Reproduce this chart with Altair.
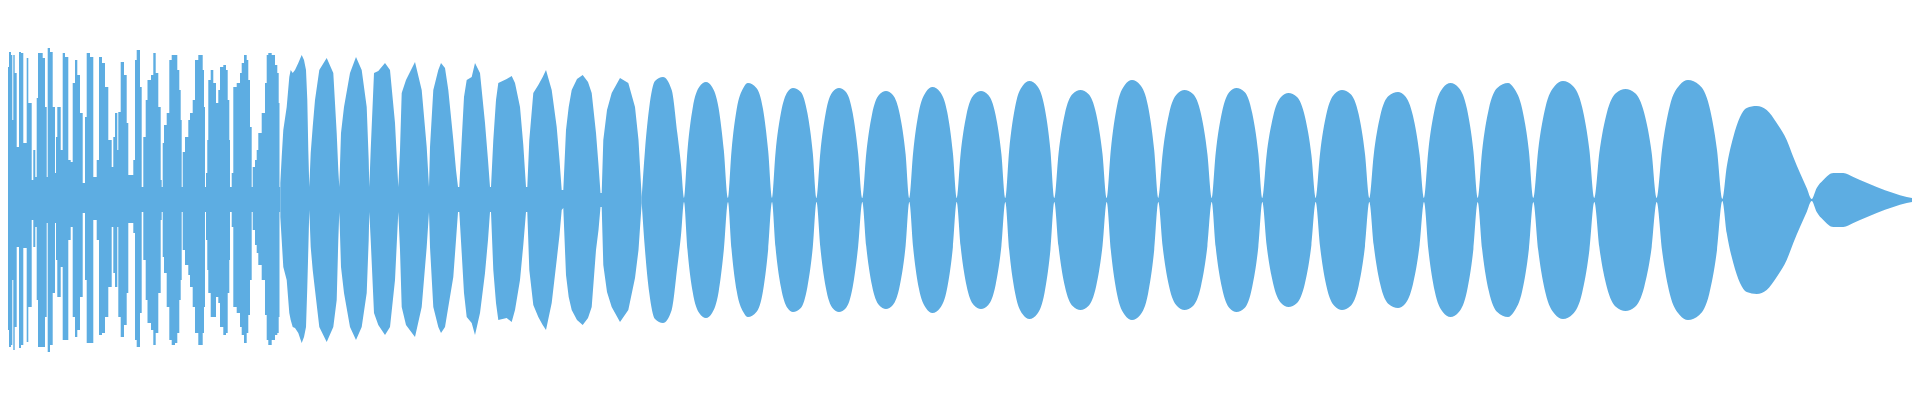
import altair as alt
import pandas as pd

COLOR = "#5DADE2"

# Dense opening bursts: (x position, upper peak, lower peak), peaks in px-like amplitude units
BURSTS = [
    (0, 7, 7), (2, 13, 10), (3.5, 15, 13), (7, 32, 30), (8, 133, 130), (9, 148, 147), (11, 145, 145),
    (12.3, 80, 80), (13.3, 145, 150), (14.7, 127, 127), (16.7, 53, 47), (19, 148, 148), (21, 147, 145),
    (23.3, 57, 48), (26.7, 142, 142), (28.3, 97, 107), (31.7, 20, 20), (33.3, 50, 47), (35.3, 23, 27),
    (36.7, 102, 100), (38, 147, 147), (42.7, 142, 147), (45, 93, 117), (46.7, 23, 23), (47.7, 152, 152),
    (50, 148, 145), (52.7, 93, 93), (55, 27, 23), (56, 63, 60), (57.3, 93, 97), (60.7, 50, 67),
    (62.7, 147, 140), (65, 143, 140), (68.3, 40, 40), (70.7, 38, 27), (72.7, 117, 117), (75, 140, 137),
    (77.3, 125, 130), (80, 87, 97), (82.7, 17, 13), (85, 83, 80), (86.7, 147, 143), (90, 143, 143),
    (93.3, 23, 20), (96.7, 40, 40), (99, 143, 135), (102, 137, 133), (105, 113, 117), (108.3, 60, 87),
    (111.7, 33, 27), (113.3, 63, 73), (115, 87, 87), (117.3, 50, 27), (118.3, 88, 117), (120.7, 138, 137),
    (124, 125, 125), (126.7, 77, 93), (128.3, 25, 23), (133.3, 40, 33), (135, 140, 140), (136.7, 150, 147),
    (140, 113, 113), (141.7, 13, 12),
    (143.3, 63, 60), (145.7, 100, 100), (147.5, 120, 123), (151, 125, 130), (153.3, 147, 145),
    (155.7, 127, 133), (158.3, 93, 93), (160.7, 20, 20), (161.7, 13, 12),
    (162.7, 57, 57), (164, 75, 73), (166.7, 87, 107), (169.3, 140, 140), (171.7, 145, 145),
    (175, 145, 143), (177.3, 130, 133), (179.3, 110, 100), (180.7, 80, 80), (181.7, 13, 12),
    (182.7, 48, 50), (185, 63, 65), (188.3, 80, 75), (190, 87, 87), (192.7, 100, 107), (195, 140, 133),
    (198.3, 145, 145), (202.7, 130, 133), (204, 93, 107), (205, 13, 12),
    (206, 27, 40), (207.3, 60, 70), (208.3, 120, 93), (210.7, 130, 117), (213.3, 117, 117), (216, 97, 97),
    (218.3, 110, 103), (220, 133, 127), (223.3, 135, 135), (226, 130, 133), (227.7, 100, 93),
    (229.3, 60, 60), (230, 13, 12),
    (231.7, 27, 27), (233.3, 113, 107), (236.7, 117, 113), (240, 127, 127), (241.7, 137, 135),
    (244, 145, 143), (246.7, 140, 133), (248.3, 120, 115), (250, 73, 80), (251.7, 13, 12),
    (252.7, 33, 30), (255, 40, 45), (256.7, 50, 53), (258.3, 67, 65), (261.7, 87, 80), (265, 117, 115),
    (266.7, 145, 140), (268.3, 147, 145), (271.7, 145, 140), (275, 135, 135), (277.3, 127, 133),
    (278.7, 97, 117), (279.5, 13, 12), (280.3, 13, 12),
]

# Middle section, lobes separated by a narrow band
LOBES = [
    (280.3, 17, 17), (281.7, 43, 40), (283.3, 70, 67), (286.7, 93, 80), (289.3, 123, 113), (290.7, 130, 120),
    (292.7, 127, 127), (295, 130, 128), (298.3, 137, 133), (301.7, 145, 143), (304, 140, 137), (306, 130, 127),
    (307.3, 100, 87), (308.3, 50, 50), (309.3, 13, 10),
    (310.7, 47, 47), (312.7, 73, 70), (315, 100, 90), (319.3, 130, 127), (326.7, 142, 142), (333.3, 127, 127),
    (336.7, 67, 100), (338.3, 30, 40), (339.3, 13, 12),
    (341, 67, 67), (344, 93, 93), (350, 127, 127), (356, 143, 140), (361.7, 130, 127), (366.7, 93, 93),
    (368.7, 40, 40), (369.3, 13, 12),
    (370.7, 50, 40), (374, 127, 113), (378.3, 129, 125), (385, 137, 135), (390, 130, 127), (395, 77, 80),
    (398.3, 13, 12),
    (400, 50, 50), (401.7, 107, 107), (406, 120, 125), (415, 138, 137), (421.7, 110, 107), (426.7, 53, 47),
    (429, 13, 12),
    (430, 53, 47), (433.3, 110, 107), (438.3, 130, 127), (441, 137, 133), (445, 132, 127), (448.3, 110, 107),
    (453.3, 60, 77), (456, 30, 40), (458, 13, 12),
    (459.3, 13, 12), (461.7, 60, 53), (464, 103, 93), (466.7, 120, 117), (471.7, 123, 123), (475, 137, 135),
    (480, 127, 113), (485, 77, 73), (488, 40, 40), (490, 13, 12),
    (491, 13, 12), (493.3, 60, 70), (496, 100, 103), (498.3, 117, 120), (506.7, 121, 118), (511.7, 124, 122),
    (515, 117, 110), (520, 93, 80), (523.3, 55, 45), (526, 13, 12),
    (527.3, 13, 12), (529.3, 60, 70), (533.3, 107, 105), (538.3, 115, 117), (542.7, 123, 125), (546, 130, 130),
    (551.7, 110, 103), (556.7, 73, 60), (559.5, 40, 35), (561.7, 10, 10),
    (563.3, 10, 8), (566, 70, 75), (568.7, 93, 97), (571.7, 110, 110), (577, 121, 120), (582.7, 125, 125),
    (588, 118, 118), (591.7, 107, 107), (596, 67, 50), (598.5, 35, 30), (600.5, 7, 7),
    (601.7, 7, 7), (603.3, 60, 65), (607, 90, 92), (611.7, 107, 107), (620, 122, 122), (628.3, 117, 110),
    (635, 93, 78), (638.5, 60, 50), (641.7, 3, 3),
]

# Smooth beating section: (x position, amplitude)
BEATS = [
    (641.7, 3), (645, 50), (649.3, 93), (655, 119), (663, 123), (671.7, 110), (677.3, 67), (681, 35),
    (684, 2), (687.5, 50), (692.7, 92), (699.2, 113), (706, 118), (712.1, 113), (718.6, 92), (723.8, 50),
    (728, 2), (731.5, 49), (736.7, 91), (743.3, 112), (748, 117), (756.4, 112), (763, 91), (768.2, 49),
    (772, 2), (775.5, 47), (780.9, 87), (787.5, 108), (793, 112), (800.8, 108), (807.4, 87), (812.8, 47),
    (816.5, 2), (820.3, 47), (825.7, 87), (832.5, 108), (839, 112), (846, 108), (852.7, 87), (858.1, 47),
    (862.3, 2), (866.2, 46), (871.9, 85), (878.9, 105), (886, 109), (892.9, 105), (899.9, 85), (905.6, 46),
    (909.3, 2), (913.1, 47), (918.8, 88), (925.9, 108), (932.5, 113), (940.1, 108), (947.2, 88), (952.9, 47),
    (956.7, 2), (960.6, 46), (966.4, 85), (973.7, 105), (981, 109), (988.3, 105), (995.6, 85), (1001.4, 46),
    (1005.3, 2), (1009.2, 50), (1015.1, 93), (1022.5, 114), (1029.5, 119), (1037.2, 114), (1044.5, 93), (1050.4, 50),
    (1054.3, 2), (1058.5, 46), (1064.8, 86), (1072.6, 106), (1080.5, 110), (1088.4, 106), (1096.2, 86), (1102.5, 46),
    (1106.7, 2), (1110.8, 50), (1117, 94), (1124.8, 115), (1132, 120), (1140.2, 115), (1148, 94), (1154.2, 50),
    (1158.3, 2), (1162.6, 46), (1169, 86), (1177, 106), (1184.5, 110), (1193, 106), (1201, 86), (1207.4, 46),
    (1211.7, 2), (1215.7, 47), (1221.8, 87), (1229.4, 108), (1236.5, 112), (1244.6, 108), (1252.2, 87), (1258.3, 47),
    (1262.3, 2), (1266.6, 45), (1273, 83), (1281, 103), (1288.5, 107), (1297, 103), (1305, 83), (1311.4, 45),
    (1315.7, 2), (1320, 46), (1326.4, 86), (1334.5, 106), (1342, 110), (1350.5, 106), (1358.6, 86), (1365, 46),
    (1369.3, 2), (1373.7, 45), (1380.2, 84), (1388.5, 104), (1398, 108), (1405, 104), (1413, 84), (1419.6, 45),
    (1424, 2), (1428.3, 49), (1434.7, 91), (1442.8, 112), (1450.5, 117), (1458.9, 112), (1467, 91), (1473.4, 49),
    (1477.7, 2), (1482.1, 49), (1488.8, 91), (1497.2, 112), (1508, 117), (1513.8, 112), (1522.2, 91), (1528.9, 49),
    (1533.3, 2), (1538.2, 50), (1545.5, 93), (1554.7, 114), (1563, 119), (1572.9, 114), (1582.1, 93), (1589.4, 50),
    (1594.3, 2), (1599.3, 47), (1606.8, 87), (1616.1, 107), (1625.5, 111), (1634.9, 107), (1644.2, 87), (1651.7, 47),
    (1656.7, 2), (1662, 50), (1669.8, 94), (1679.7, 115), (1688, 120), (1699.3, 115), (1709.2, 94), (1717, 50),
    (1722.3, 1), (1726.7, 33), (1733.3, 63), (1740, 83), (1746.7, 92), (1756.7, 94), (1766.7, 90), (1776.7, 77),
    (1786.7, 60), (1793.3, 43), (1800, 27), (1806.7, 12), (1811.7, 1),
    (1816.7, 12), (1823.3, 20), (1833.3, 27), (1843.3, 27), (1853.3, 23), (1860, 20), (1876.7, 13),
    (1893.3, 7), (1906.7, 3), (1920, 1),
]


def frame(rows):
    return pd.DataFrame({
        "x": [r[0] for r in rows],
        "top": [r[1] for r in rows],
        "bottom": [-r[2] for r in rows],
    })


bursts_df = frame(BURSTS)
lobes_df = frame(LOBES)
beats_df = pd.DataFrame({
    "x": [r[0] for r in BEATS],
    "top": [r[1] for r in BEATS],
    "bottom": [-r[1] for r in BEATS],
})

xs = alt.Scale(domain=[8, 1912], nice=False, zero=False)
ys = alt.Scale(domain=[-192, 192], nice=False, zero=False)


def layer(df, interp):
    return alt.Chart(df).mark_area(interpolate=interp, color=COLOR, clip=True, opacity=1).encode(
        x=alt.X("x:Q", scale=xs, axis=None),
        y=alt.Y("top:Q", scale=ys, axis=None),
        y2="bottom:Q",
    )


chart = alt.layer(
    layer(bursts_df, "step-after"),
    layer(lobes_df, "linear"),
    layer(beats_df, "monotone"),
).properties(
    width=1904,
    height=384,
    padding=0,
    autosize=alt.AutoSizeParams(type="none"),
    background="white",
).configure_view(strokeWidth=0)

chart.save("out.html", embed_options={"renderer": "svg", "actions": False})
